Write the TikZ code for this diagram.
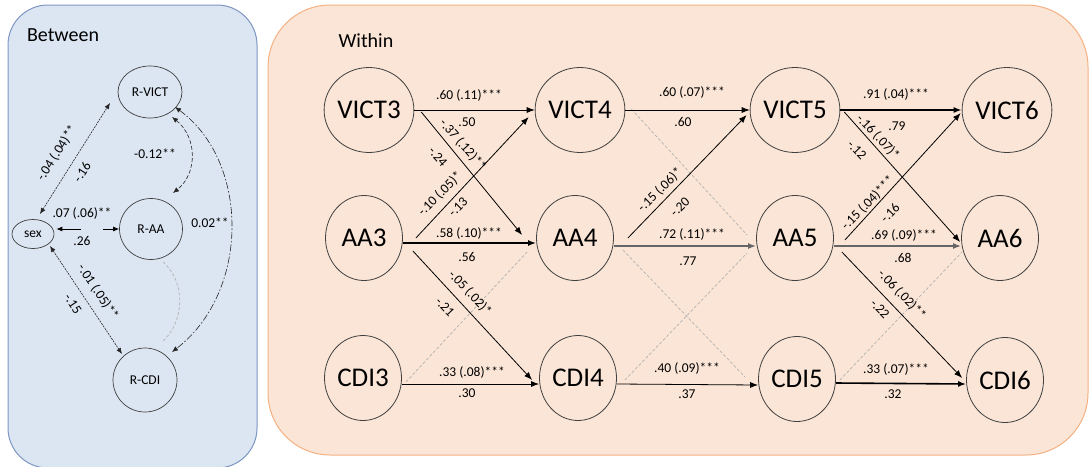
\documentclass[tikz,border=0pt]{standalone}
\usepackage{fontspec}
\setmainfont{Carlito}
\usetikzlibrary{arrows.meta,calc,shapes.geometric}
\definecolor{bluefill}{RGB}{220,230,242}
\definecolor{blueline}{RGB}{125,150,195}
\definecolor{peachfill}{RGB}{251,229,214}
\definecolor{peachline}{RGB}{244,177,131}
\tikzset{
  var/.style={draw=black!75, line width=0.8pt, ellipse, minimum width=77pt, minimum height=85pt, inner sep=0pt, font=\fontsize{27}{30}\selectfont},
  bvar/.style={draw=black!75, line width=0.7pt, ellipse, inner sep=0pt, font=\fontsize{13.5}{15}\selectfont},
  lbl/.style={font=\fontsize{13.5}{15}\selectfont, inner sep=0pt},
  arr/.style={-{Latex[length=8pt,width=6pt]}, line width=0.8pt},
  thk/.style={-{Latex[length=8pt,width=6pt]}, line width=1.6pt},
  gdash/.style={draw=black!30, dash pattern=on 3pt off 2pt, line width=0.7pt},
  barr/.style={{Latex[length=6pt,width=5pt]}-{Latex[length=6pt,width=5pt]}, line width=0.6pt, black!85},
  sarr/.style={-{Latex[length=6pt,width=5pt]}, line width=0.8pt},
  title/.style={font=\fontsize{20}{24}\selectfont, inner sep=0pt}
}
\begin{document}
\begin{tikzpicture}[x=1pt,y=-1pt]
\useasboundingbox (0,0) rectangle (1089,466);
% panels
\draw[fill=bluefill, draw=blueline, line width=1pt, rounded corners=40pt] (8,5) rectangle (257,468);
\draw[fill=peachfill, draw=peachline, line width=1pt, rounded corners=62pt] (268,5) rectangle (1088,455);
\node[title] (tb) at (63,35) {Between};
\node[title] (tw) at (366,41) {Within};

% ---------- Between ----------
\node[bvar, minimum width=64pt, minimum height=52pt] (RVICT) at (150,92) {R-VICT};
\node[bvar, minimum width=63pt, minimum height=61pt] (RAA) at (151,229) {R-AA};
\node[bvar, minimum width=64pt, minimum height=64pt] (RCDI) at (145,380) {R-CDI};
\node[bvar, minimum width=42pt, minimum height=29pt] (sex) at (33,234) {sex};

\draw[barr, dash pattern=on 2pt off 1pt] ($(sex)+(7,-20)$) -- ($(RVICT)+(-40,11)$);
\draw[barr, dash pattern=on 2pt off 1pt] ($(sex)+(17,12)$) -- ($(RCDI)+(-23,-26)$);
\coordinate (sa) at ($(sex.east)+(27,-5)$);
\coordinate (sb) at ($(RAA.west)+(-16,0)$);
\draw[sarr] (sa) -- ($(sex.east)+(2,-5)$);
\draw[sarr] (sb) -- (RAA.west);

\draw[barr, dash pattern=on 4pt off 2pt] ($(RVICT)+(22,25)$) .. controls +(25,20) and +(25,-20) .. ($(RAA)+(22,-36)$);
\draw[barr, dash pattern=on 7pt off 2pt on 1.5pt off 2pt] ($(RVICT)+(25,15)$) .. controls +(75,55) and +(78,-60) .. ($(RCDI)+(27,-28)$);
\draw[gdash] ($(RAA)+(12,33)$) .. controls +(23,20) and +(23,-20) .. ($(RCDI)+(17,-38)$);

\node[lbl, rotate=57.5] (b1) at (57,153) {-.04 (.04)**};
\node[lbl, rotate=57.5] (b2) at (82,172) {-.16};
\node[lbl] (b3) at (82,213) {.07 (.06)**};
\node[lbl] (b4) at (82,241) {.26};
\node[lbl, rotate=-56.6] (b5) at (98,292) {-.01 (.05)**};
\node[lbl, rotate=-56.6] (b6) at (73,304) {-.15};
\node[lbl] (b7) at (155,154) {-0.12**};
\node[lbl] (b8) at (210,223) {0.02**};

% ---------- Within ----------
\node[var] (VICT3) at (369,110) {VICT3};
\node[var] (AA3)   at (364,238) {AA3};
\node[var] (CDI3)  at (363,378) {CDI3};
\node[var] (VICT4) at (580,110) {VICT4};
\node[var] (AA4)   at (575,238) {AA4};
\node[var] (CDI4)  at (578,378) {CDI4};
\node[var] (VICT5) at (795,110) {VICT5};
\node[var] (AA5)   at (795,238) {AA5};
\node[var] (CDI5)  at (797,379) {CDI5};
\node[var] (VICT6) at (1007,110) {VICT6};
\node[var] (AA6)   at (1000,238) {AA6};
\node[var] (CDI6)  at (1005,380) {CDI6};

% dashed non-significant paths
\draw[gdash] ($(CDI3.east)+(4,4)$) -- ($(AA4.west)+(-9,14)$);
\draw[gdash] ($(VICT4.east)+(6,-1)$) -- ($(AA5.west)+(-9,-3)$);
\draw[gdash] ($(AA4.east)+(9,12)$) -- ($(CDI5.west)+(-13,-2)$);
\draw[gdash] ($(CDI4.east)+(8,2)$) -- ($(AA5.west)+(-9,15)$);
\draw[gdash] ($(CDI5.east)+(4,1)$) -- ($(AA6.west)+(1,14)$);

% horizontal paths
\draw[arr] (VICT3.east) -- (VICT4.west);
\draw[thk] ($(AA3.east)+(0,5)$) -- ($(AA4.west)+(0,5)$);
\draw[arr] ($(CDI3.east)+(0,6)$) -- ($(CDI4.west)+(0,6)$);
\draw[arr] (VICT4.east) -- (VICT5.west);
\draw[thk, black!60] ($(AA4.east)+(0,8)$) -- ($(AA5.west)+(0,8)$);
\draw[arr] ($(CDI4.east)+(0,6)$) -- ($(CDI5.west)+(0,6)$);
\draw[thk] (VICT5.east) -- (VICT6.west);
\draw[thk, black!60] ($(AA5.east)+(0,8)$) -- ($(AA6.west)+(0,8)$);
\draw[thk] ($(CDI5.east)+(0,4)$) -- ($(CDI6.west)+(0,4)$);

% cross-lagged paths
\draw[arr] ($(VICT3.east)+(7,2)$) -- ($(AA4.west)+(-14,-3)$);
\draw[arr] ($(AA3.east)+(13,0)$) -- ($(VICT4.west)+(-6,7)$);
\draw[arr] ($(AA3.east)+(10,13)$) -- ($(CDI4.west)+(-7,2)$);
\draw[arr] ($(AA4.east)+(14,0)$) -- ($(VICT5.west)+(-3,5)$);
\draw[arr] ($(VICT5.east)+(4,2)$) -- ($(AA6.west)+(-1,4)$);
\draw[arr] ($(AA5.east)+(11,2)$) -- ($(VICT6.west)+(-1,3)$);
\draw[arr] ($(AA5.east)+(8,14)$) -- ($(CDI6.west)+(-4,-2)$);

% horizontal labels
\node[lbl] (h1a) at (469,95) {.60 (.11)***};
\node[lbl] (h1b) at (467,122) {.50};
\node[lbl] (h2a) at (469,233) {.58 (.10)***};
\node[lbl] (h2b) at (467,257) {.56};
\node[lbl] (h3a) at (472,372) {.33 (.08)***};
\node[lbl] (h3b) at (467,393) {.30};
\node[lbl] (h4a) at (692,92) {.60 (.07)***};
\node[lbl] (h4b) at (683,122) {.60};
\node[lbl] (h5a) at (692,234) {.72 (.11)***};
\node[lbl] (h5b) at (688,261) {.77};
\node[lbl] (h6a) at (687,368) {.40 (.09)***};
\node[lbl] (h6b) at (687,394) {.37};
\node[lbl] (h7a) at (896,94) {.91 (.04)***};
\node[lbl] (h7b) at (897,126) {.79};
\node[lbl] (h8a) at (904,235) {.69 (.09)***};
\node[lbl] (h8b) at (903,258) {.68};
\node[lbl] (h9a) at (896,369) {.33 (.07)***};
\node[lbl] (h9b) at (893,394) {.32};

% diagonal labels
\node[lbl, rotate=-48.7] (d1a) at (463,145) {-.37 (.12)**};
\node[lbl, rotate=-48.7] (d1b) at (438,157) {-.24};
\node[lbl, rotate=45.2] (d2a) at (440,194) {-.10 (.05)*};
\node[lbl, rotate=45.2] (d2b) at (458,207) {-.13};
\node[lbl, rotate=-46.8] (d3a) at (470,293) {-.05 (.02)*};
\node[lbl, rotate=-46.8] (d3b) at (445,307) {-.21};
\node[lbl, rotate=44.3] (d4a) at (660,190) {-.15 (.06)*};
\node[lbl, rotate=44.3] (d4b) at (680,207) {-.20};
\node[lbl, rotate=-46.8] (d5a) at (878,137) {-.16 (.07)*};
\node[lbl, rotate=-46.8] (d5b) at (857,150) {-.12};
\node[lbl, rotate=46.1] (d6a) at (868,203) {-.15 (.04)***};
\node[lbl, rotate=46.1] (d6b) at (890,213) {-.16};
\node[lbl, rotate=-46.4] (d7a) at (902,295) {-.06 (.02)**};
\node[lbl, rotate=-46.4] (d7b) at (880,309) {-.22};
\end{tikzpicture}
\end{document}
